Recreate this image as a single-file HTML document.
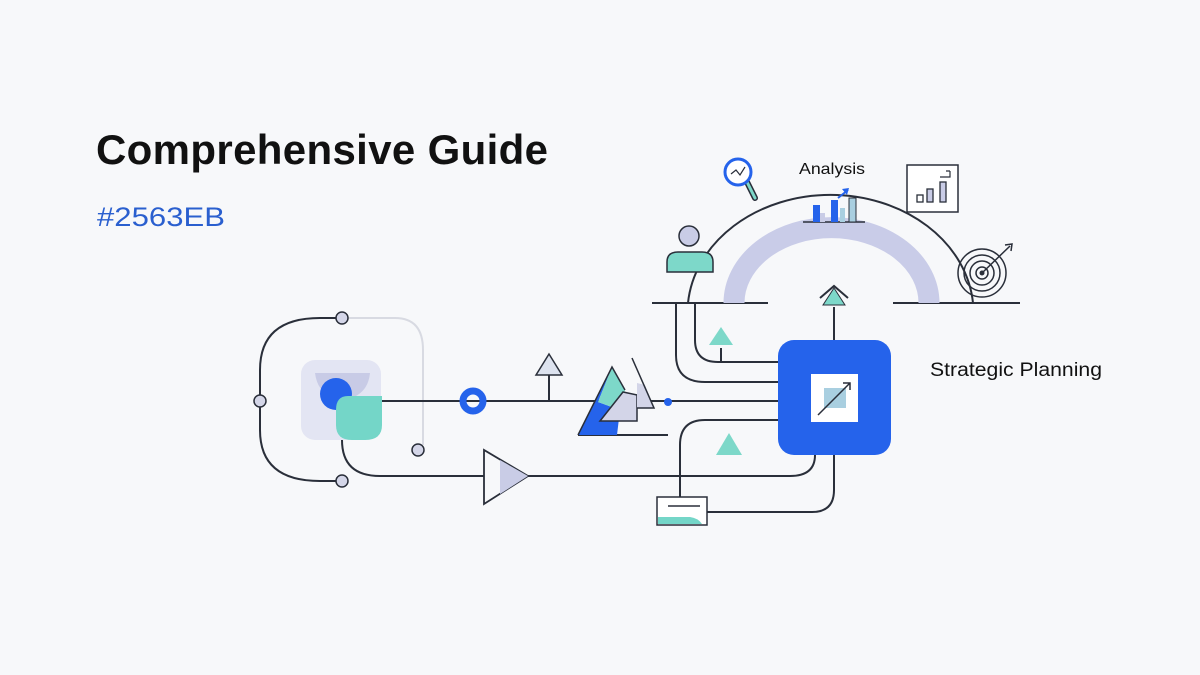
<!DOCTYPE html>
<html><head><meta charset="utf-8"><style>
body{margin:0;background:#f7f8fa;}
svg{display:block}
text{font-family:"Liberation Sans",sans-serif}
</style></head><body>
<svg width="1200" height="675" viewBox="0 0 1200 675">
<rect width="1200" height="675" fill="#f7f8fa"/>
<text x="96" y="164" font-size="42" font-weight="bold" fill="#111" textLength="452" lengthAdjust="spacing">Comprehensive Guide</text>
<text x="97" y="226" font-size="27" fill="#2a5fcf" textLength="128" lengthAdjust="spacingAndGlyphs">#2563EB</text>
<text x="930" y="376" font-size="19" fill="#111" textLength="172" lengthAdjust="spacingAndGlyphs">Strategic Planning</text>
<text x="799" y="174" font-size="16" fill="#111" textLength="66" lengthAdjust="spacingAndGlyphs">Analysis</text>

<g fill="none" stroke="#2a2f3a" stroke-width="2">
<path d="M342 318 H320 Q260 318 260 370 V430 Q260 481 320 481 H342"/>
<path d="M342 318 H395 Q423 318 423 350 V445" stroke="#d8dae2"/>
<path d="M342 440 Q342 476 380 476 H484"/>
<path d="M528 476 H790 Q815 476 815 455"/>
<path d="M381 401 H778"/>
<path d="M549 401 V375"/>
<path d="M578 435 H668"/>
<path d="M688 303 A143 118 0 0 1 973 303"/>
<path d="M652 303 H768 M893 303 H1020"/>
<path d="M676 303 V355 Q676 382 705 382 H778"/>
<path d="M695 303 V340 Q695 362 718 362 H778"/>
<path d="M721 348 V362"/>
<path d="M778 420 H705 Q680 420 680 445 V497"/>
<path d="M834 455 V490 Q834 512 812 512 H707"/>
<path d="M834 340 V307"/>
<path d="M820 298 L834 286 L848 298"/>
</g>
<path d="M734 303 A97 75 0 0 1 929 303" fill="none" stroke="#c9cce8" stroke-width="21"/>
<g fill="#d4d6e8" stroke="#2a2f3a" stroke-width="1.5">
<circle cx="342" cy="318" r="6"/><circle cx="260" cy="401" r="6"/><circle cx="342" cy="481" r="6"/><circle cx="418" cy="450" r="6"/>
</g>
<rect x="301" y="360" width="80" height="80" rx="14" fill="#e3e5f3"/>
<path d="M315 373 H370 Q368 395 345 400 Q318 398 315 373Z" fill="#c8cbe6"/>
<circle cx="336" cy="394" r="16" fill="#2563EB"/>
<path d="M348 396 H382 V425 Q382 440 365 440 H352 Q336 440 336 425 V410 Q336 396 348 396Z" fill="#74d6c8"/>
<circle cx="473" cy="401" r="10" fill="none" stroke="#2563EB" stroke-width="7"/>
<polygon points="549,354 536,375 562,375" fill="#dde3ef" stroke="#2a2f3a" stroke-width="1.5"/>
<polygon points="484,450 484,504 528,476" fill="#f7f8fa" stroke="#2a2f3a" stroke-width="1.8"/>
<polygon points="500,460 500,494 528,476" fill="#c9cce6"/>
<polygon points="612,367 578,435 617,435 620,410 598,402" fill="#2563EB"/>
<polygon points="612,367 598,402 620,410 625,390" fill="#7dd8c9"/>
<polyline points="578,435 612,367 625,390" fill="none" stroke="#2a2f3a" stroke-width="1.5"/>
<polygon points="600,421 623,392 637,395 637,421" fill="#d3d5e8" stroke="#2a2f3a" stroke-width="1.5"/>
<polygon points="637,383 645,385 654,408 637,408" fill="#d3d5e8"/>
<polyline points="632,358 654,408 637,408" fill="none" stroke="#2a2f3a" stroke-width="1.5"/>
<circle cx="668" cy="402" r="4" fill="#2563EB"/>
<rect x="778" y="340" width="113" height="115" rx="16" fill="#2563EB"/>
<rect x="811" y="374" width="47" height="48" fill="#fff"/>
<rect x="824" y="388" width="22" height="20" fill="#a9cfe0"/>
<path d="M818 415 L850 383 M843 383 H850 V390" stroke="#2a2f3a" stroke-width="1.5" fill="none"/>
<polygon points="834,288 823,305 845,305" fill="#7dd8c9" stroke="#2a2f3a" stroke-width="1"/>
<polygon points="721,327 709,345 733,345" fill="#7dd8c9"/>
<polygon points="729,433 716,455 742,455" fill="#7dd8c9"/>
<rect x="657" y="497" width="50" height="28" fill="#fff" stroke="#2a2f3a" stroke-width="1.5"/>
<path d="M658 517 H690 Q698 518 702 524 H658Z" fill="#74d6c8"/>
<path d="M668 506 H700" stroke="#2a2f3a" stroke-width="1.5"/>
<circle cx="689" cy="236" r="10" fill="#c9cce6" stroke="#2a2f3a" stroke-width="1.5"/>
<path d="M667 272 V262 Q667 252 678 252 H702 Q713 252 713 262 V272Z" fill="#7dd8c9" stroke="#2a2f3a" stroke-width="1.5"/>
<path d="M747 182 L755 198" stroke="#2a2f3a" stroke-width="6" stroke-linecap="round"/>
<path d="M747 182 L755 198" stroke="#7dd8c9" stroke-width="3" stroke-linecap="round"/>
<circle cx="738" cy="172" r="13" fill="#fff" stroke="#2563EB" stroke-width="3"/>
<path d="M731 174 L736 170 L740 175 L745 167" stroke="#2a2f3a" stroke-width="1.2" fill="none"/>
<path d="M803 222 H865" stroke="#2a2f3a" stroke-width="1.5"/>
<rect x="813" y="205" width="7" height="17" fill="#2563EB"/>
<rect x="820" y="213" width="5" height="9" fill="#c9cce6"/>
<rect x="831" y="200" width="7" height="22" fill="#2563EB"/>
<rect x="840" y="208" width="5" height="14" fill="#a9cfe0"/>
<rect x="849" y="198" width="7" height="24" fill="#a9cfe0" stroke="#2a2f3a" stroke-width="1"/>
<path d="M838 198 L848 190" stroke="#2563EB" stroke-width="2"/>
<polygon points="849,188 842,189 847,195" fill="#2563EB"/>
<rect x="907" y="165" width="51" height="47" fill="#fff" stroke="#2a2f3a" stroke-width="1.5"/>
<rect x="917" y="195" width="6" height="7" fill="none" stroke="#2a2f3a" stroke-width="1.3"/>
<rect x="927" y="189" width="6" height="13" fill="#c9cce6" stroke="#2a2f3a" stroke-width="1.3"/>
<rect x="940" y="182" width="6" height="20" fill="#c9cce6" stroke="#2a2f3a" stroke-width="1.3"/>
<path d="M940 177 H950 V171 M946 171 H950" fill="none" stroke="#2a2f3a" stroke-width="1.2"/>
<g fill="none" stroke="#2a2f3a" stroke-width="1.5">
<circle cx="982" cy="273" r="24"/><circle cx="982" cy="273" r="18"/><circle cx="982" cy="273" r="12"/><circle cx="982" cy="273" r="6"/>
<path d="M982 273 L1010 246"/>
<path d="M1005 245 L1012 244 L1011 251"/>
</g>
<circle cx="982" cy="273" r="2.5" fill="#2a2f3a"/>
</svg>
</body></html>
